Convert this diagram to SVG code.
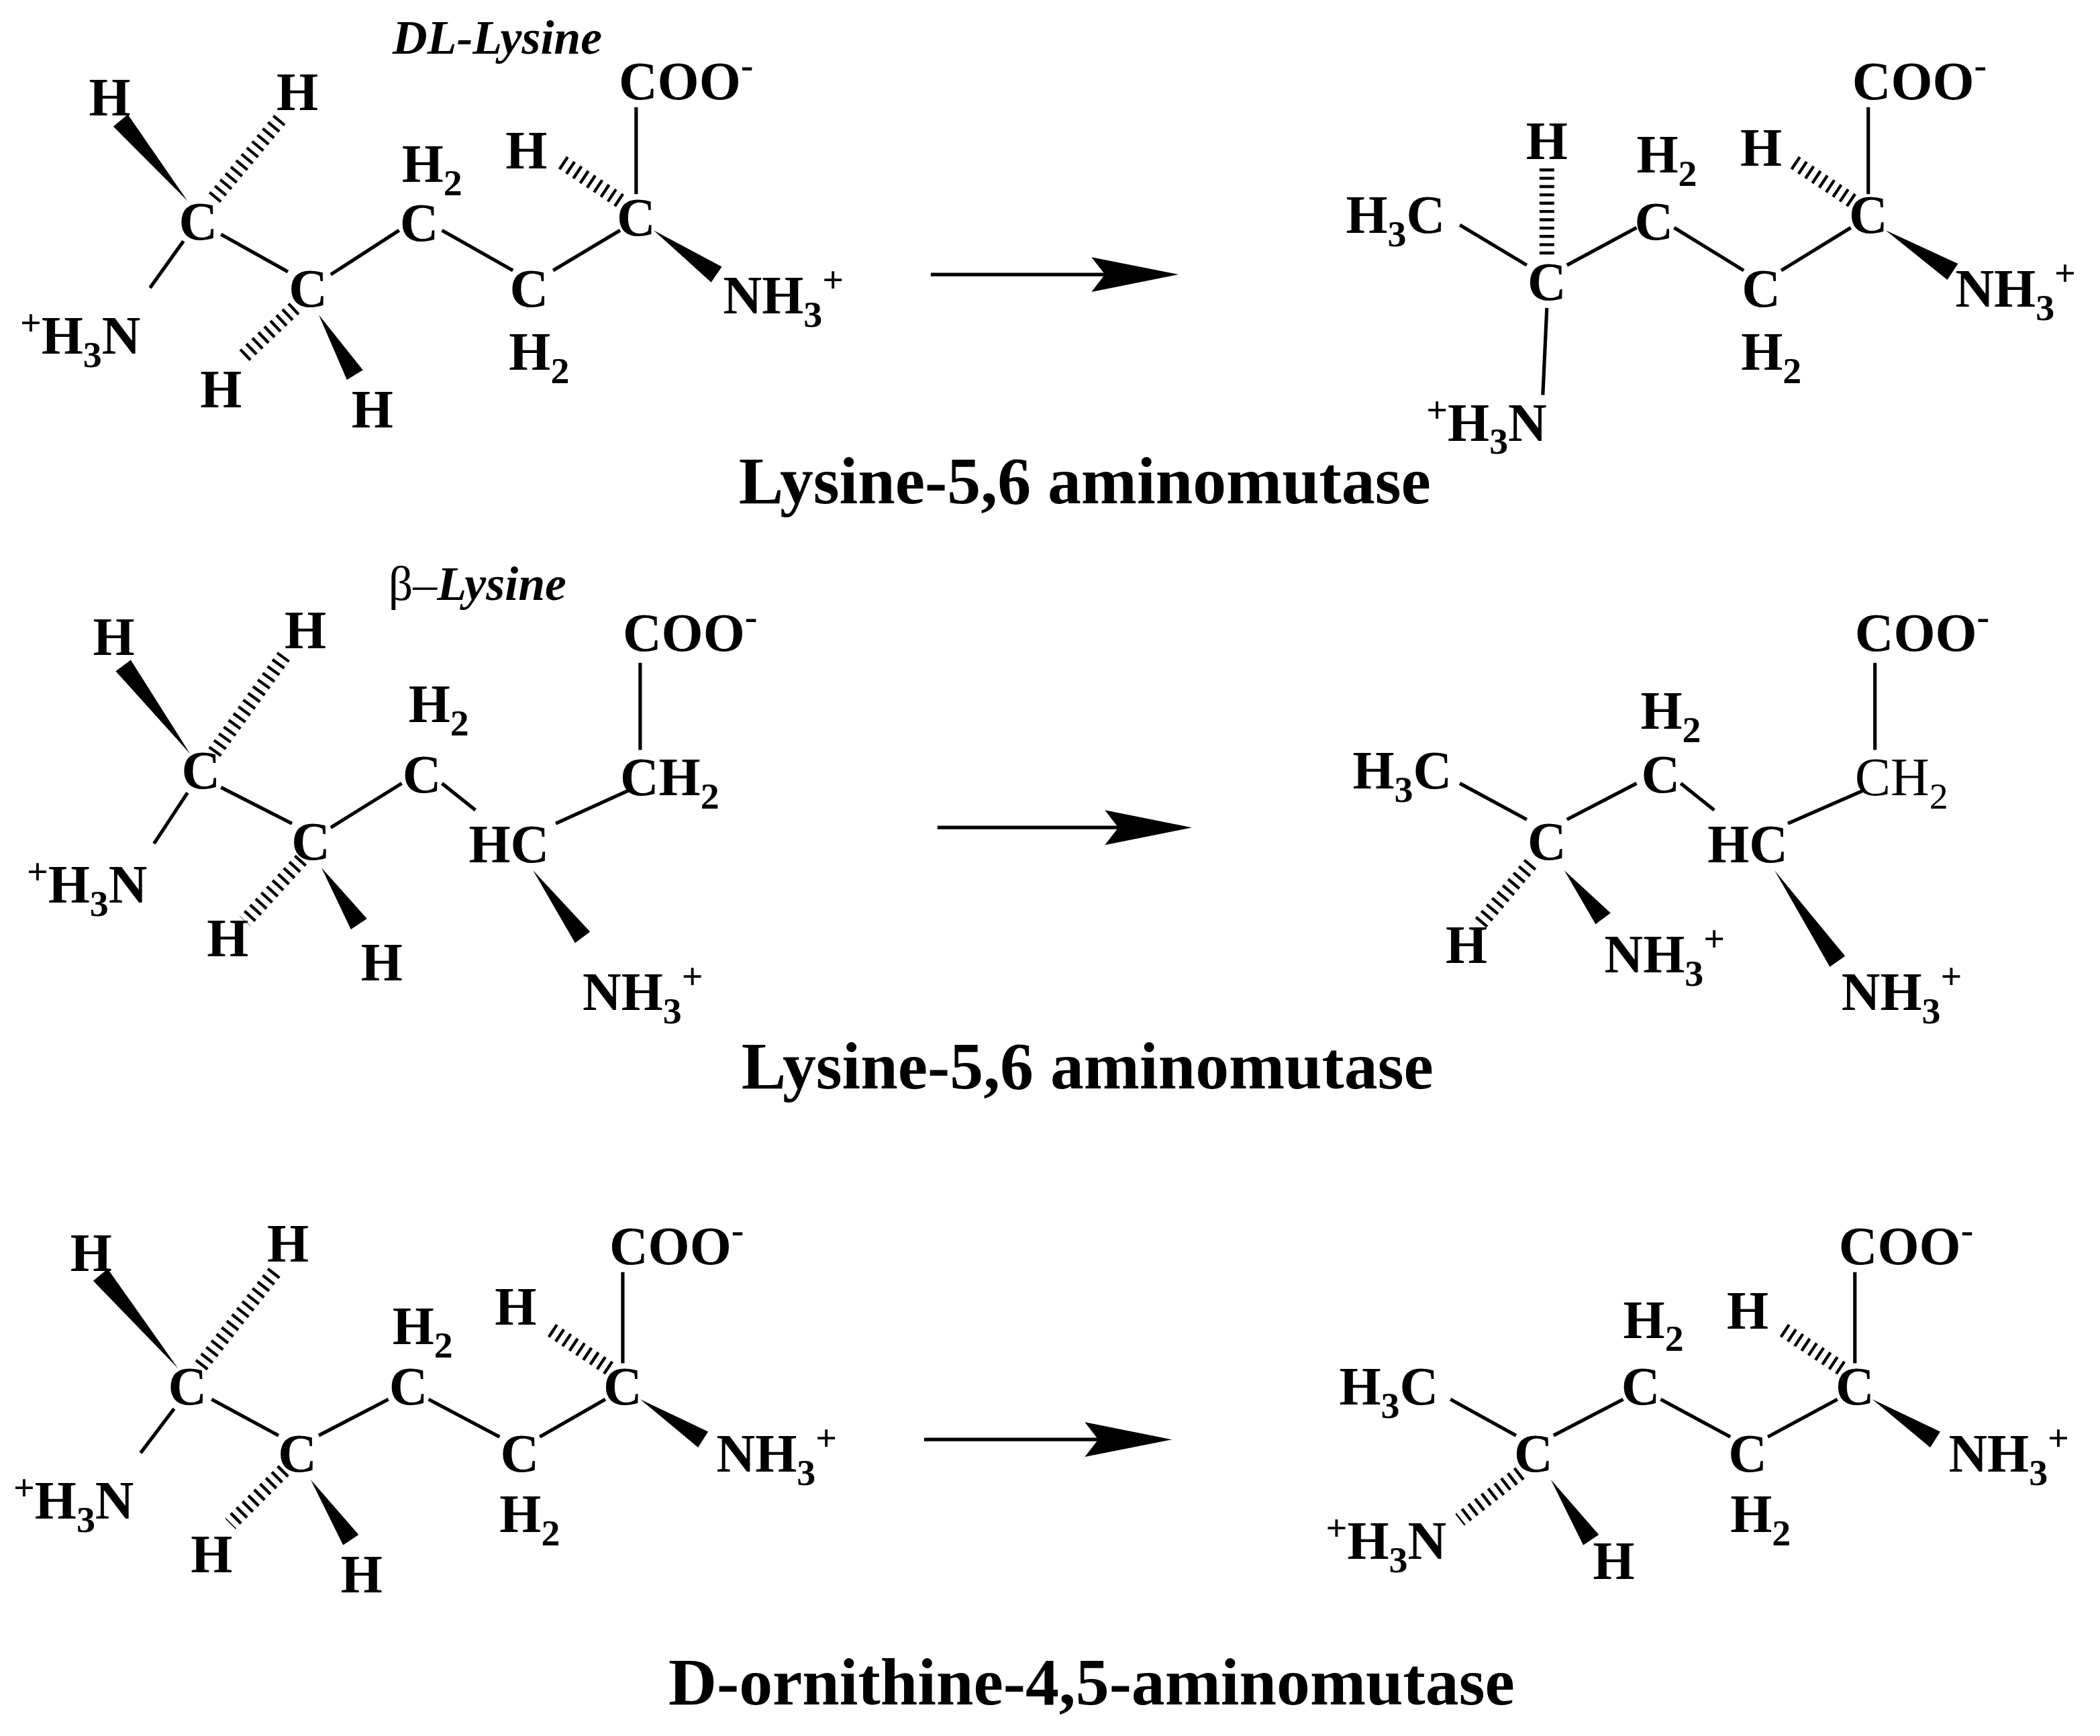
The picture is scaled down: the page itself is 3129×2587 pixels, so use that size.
<svg xmlns="http://www.w3.org/2000/svg" width="3129" height="2587" viewBox="0 0 3129 2587">
<style>
text{font-family:"Liberation Serif","Times New Roman",serif;font-weight:bold;font-size:40px;fill:#000}
.m{text-anchor:middle}
.it{font-style:italic;font-size:36px}
.lb{font-size:50px;text-anchor:middle}
.s{font-size:28px}
.n{font-weight:normal}
line{stroke:#000;stroke-width:2.6}
.h{stroke-width:11;stroke-dasharray:2.2 4}
polygon{fill:#000}
</style>
<rect width="3129" height="2587" fill="#fff"/>
<g transform="scale(1.9955)">
<g id="connectors">
<line x1="112" y1="215" x2="137" y2="180"/><line x1="165" y1="175" x2="215" y2="203"/><line x1="247" y1="205" x2="298" y2="172"/><line x1="330" y1="172" x2="383" y2="202"/><line x1="413" y1="202" x2="463" y2="172"/><line x1="475" y1="145" x2="475" y2="80"/>
<polygon points="140,150 95.4,85.5 84.6,94.5"/><polygon points="238,235 259,283.6 271,276.4"/><polygon points="488,172 531,210.8 539,199.2"/>
<line class="h" x1="160" y1="148" x2="210" y2="88"/><line class="h" x1="220" y1="230" x2="180" y2="268"/><line class="h" x1="463" y1="150" x2="418" y2="120"/>
<line x1="1090" y1="168" x2="1140" y2="198"/><line x1="1155" y1="230" x2="1152" y2="295"/><line x1="1170" y1="198" x2="1222" y2="170"/><line x1="1250" y1="170" x2="1302" y2="202"/><line x1="1330" y1="202" x2="1382" y2="170"/><line x1="1395" y1="145" x2="1395" y2="80"/>
<line class="h" x1="1155" y1="190" x2="1155" y2="125"/><polygon points="1408,172 1454,209 1462,197"/><line class="h" x1="1383" y1="150" x2="1338" y2="120"/>
<line x1="695" y1="205" x2="830" y2="205"/><polygon points="880,205 815,192 825,205 815,218"/>
<line x1="115" y1="630" x2="140" y2="592"/><line x1="165" y1="588" x2="218" y2="615"/><line x1="247" y1="618" x2="300" y2="585"/><line x1="330" y1="585" x2="355" y2="605"/><line x1="415" y1="615" x2="470" y2="590"/><line x1="478" y1="560" x2="478" y2="495"/>
<polygon points="142,563 97.6,492.8 86.4,501.2"/><polygon points="240,648 262,694 274,686"/><polygon points="398,650 429.4,704.2 440.6,695.8"/>
<line class="h" x1="160" y1="562" x2="212" y2="490"/><line class="h" x1="225" y1="642" x2="183" y2="688"/>
<line x1="1090" y1="585" x2="1140" y2="612"/><line x1="1170" y1="612" x2="1222" y2="585"/><line x1="1255" y1="585" x2="1280" y2="605"/><line x1="1335" y1="615" x2="1392" y2="590"/><line x1="1400" y1="560" x2="1400" y2="495"/>
<line class="h" x1="1143" y1="645" x2="1105" y2="690"/><polygon points="1168,650 1191.4,690.2 1202.6,681.8"/><polygon points="1325,650 1366.3,722 1377.7,714"/>
<line x1="700" y1="618" x2="840" y2="618"/><polygon points="890,618 825,605 835,618 825,631"/>
<line x1="105" y1="1085" x2="130" y2="1052"/><line x1="158" y1="1045" x2="208" y2="1072"/><line x1="238" y1="1072" x2="290" y2="1045"/><line x1="320" y1="1045" x2="373" y2="1073"/><line x1="403" y1="1073" x2="452" y2="1045"/><line x1="465" y1="1018" x2="465" y2="950"/>
<polygon points="133,1022 80.4,947.5 69.6,956.5"/><polygon points="232,1105 256.2,1153.9 267.8,1146.1"/><polygon points="478,1045 521.25,1080.9 528.75,1069.1"/>
<line class="h" x1="150" y1="1020" x2="205" y2="950"/><line class="h" x1="212" y1="1098" x2="172" y2="1138"/><line class="h" x1="455" y1="1022" x2="410" y2="992"/>
<line x1="1083" y1="1045" x2="1132" y2="1072"/><line x1="1160" y1="1072" x2="1212" y2="1045"/><line x1="1240" y1="1045" x2="1292" y2="1073"/><line x1="1320" y1="1073" x2="1372" y2="1045"/><line x1="1385" y1="1018" x2="1385" y2="950"/>
<line class="h" x1="1135" y1="1100" x2="1090" y2="1135"/><polygon points="1158,1105 1182.2,1153.9 1193.8,1146.1"/><polygon points="1398,1045 1441.25,1080.9 1448.75,1069.1"/><line class="h" x1="1375" y1="1022" x2="1330" y2="992"/>
<line x1="690" y1="1075" x2="825" y2="1075"/><polygon points="875,1075 810,1062 820,1075 810,1088"/>
</g>
<g id="row1">
<text class="it" x="293" y="40">DL-Lysine</text>
<text class="m" x="82" y="86">H</text><text class="m" x="222" y="82">H</text><text class="m" x="148" y="179">C</text>
<text x="15" y="264"><tspan class="s" dy="-14">+</tspan><tspan dy="14">H</tspan><tspan class="s" dy="10">3</tspan><tspan dy="-10">N</tspan></text>
<text class="m" x="230" y="229">C</text><text class="m" x="165" y="304">H</text><text class="m" x="278" y="319">H</text>
<text x="300" y="136">H<tspan class="s" dy="10">2</tspan></text><text class="m" x="313" y="180">C</text>
<text class="m" x="395" y="229">C</text><text x="380" y="276">H<tspan class="s" dy="10">2</tspan></text>
<text class="m" x="393" y="126">H</text><text class="m" x="475" y="176">C</text>
<text x="462" y="74">COO<tspan class="s" dy="-16">-</tspan></text>
<text x="540" y="234">NH<tspan class="s" dy="10">3</tspan><tspan class="s" dy="-26">+</tspan></text>
</g>
<g id="product1">
<text x="1005" y="174">H<tspan class="s" dy="10">3</tspan><tspan dy="-10">C</tspan></text>
<text class="m" x="1155" y="224">C</text><text class="m" x="1155" y="119">H</text>
<text x="1065" y="329"><tspan class="s" dy="-14">+</tspan><tspan dy="14">H</tspan><tspan class="s" dy="10">3</tspan><tspan dy="-10">N</tspan></text>
<text x="1222" y="129">H<tspan class="s" dy="10">2</tspan></text><text class="m" x="1235" y="179">C</text>
<text class="m" x="1315" y="229">C</text><text x="1300" y="276">H<tspan class="s" dy="10">2</tspan></text>
<text class="m" x="1315" y="124">H</text><text class="m" x="1395" y="174">C</text>
<text x="1383" y="74">COO<tspan class="s" dy="-16">-</tspan></text>
<text x="1460" y="229">NH<tspan class="s" dy="10">3</tspan><tspan class="s" dy="-26">+</tspan></text>
<text class="lb" x="810" y="376">Lysine-5,6 aminomutase</text>
</g>
<g id="row2">
<text class="it" x="290" y="448"><tspan font-style="normal" font-weight="normal">β–</tspan>Lysine</text>
<text class="m" x="85" y="489">H</text><text class="m" x="228" y="484">H</text><text class="m" x="150" y="589">C</text>
<text x="20" y="674"><tspan class="s" dy="-14">+</tspan><tspan dy="14">H</tspan><tspan class="s" dy="10">3</tspan><tspan dy="-10">N</tspan></text>
<text class="m" x="232" y="642">C</text><text class="m" x="170" y="714">H</text><text class="m" x="285" y="732">H</text>
<text x="305" y="539">H<tspan class="s" dy="10">2</tspan></text><text class="m" x="315" y="592">C</text>
<text class="m" x="380" y="644">HC</text><text x="463" y="594">CH<tspan class="s" dy="10">2</tspan></text>
<text x="465" y="486">COO<tspan class="s" dy="-16">-</tspan></text>
<text x="435" y="754">NH<tspan class="s" dy="10">3</tspan><tspan class="s" dy="-26">+</tspan></text>
</g>
<g id="product2">
<text x="1010" y="589">H<tspan class="s" dy="10">3</tspan><tspan dy="-10">C</tspan></text>
<text class="m" x="1155" y="642">C</text><text class="m" x="1095" y="719">H</text>
<text x="1198" y="726">NH<tspan class="s" dy="10">3</tspan><tspan class="s" dy="-26">+</tspan></text>
<text x="1225" y="544">H<tspan class="s" dy="10">2</tspan></text><text class="m" x="1240" y="592">C</text>
<text class="m" x="1305" y="644">HC</text><text class="n" x="1385" y="594">CH<tspan class="s" dy="10">2</tspan></text>
<text x="1385" y="486">COO<tspan class="s" dy="-16">-</tspan></text>
<text x="1375" y="754">NH<tspan class="s" dy="10">3</tspan><tspan class="s" dy="-26">+</tspan></text>
<text class="lb" x="812" y="813">Lysine-5,6 aminomutase</text>
</g>
<g id="row3">
<text class="m" x="68" y="949">H</text><text class="m" x="215" y="942">H</text><text class="m" x="140" y="1049">C</text>
<text x="10" y="1134"><tspan class="s" dy="-14">+</tspan><tspan dy="14">H</tspan><tspan class="s" dy="10">3</tspan><tspan dy="-10">N</tspan></text>
<text class="m" x="222" y="1099">C</text><text class="m" x="158" y="1174">H</text><text class="m" x="270" y="1189">H</text>
<text x="293" y="1004">H<tspan class="s" dy="10">2</tspan></text><text class="m" x="305" y="1049">C</text>
<text class="m" x="388" y="1099">C</text><text x="373" y="1144">H<tspan class="s" dy="10">2</tspan></text>
<text class="m" x="385" y="989">H</text><text class="m" x="465" y="1049">C</text>
<text x="455" y="944">COO<tspan class="s" dy="-16">-</tspan></text>
<text x="535" y="1099">NH<tspan class="s" dy="10">3</tspan><tspan class="s" dy="-26">+</tspan></text>
</g>
<g id="product3">
<text x="1000" y="1049">H<tspan class="s" dy="10">3</tspan><tspan dy="-10">C</tspan></text>
<text class="m" x="1145" y="1099">C</text>
<text x="990" y="1164"><tspan class="s" dy="-14">+</tspan><tspan dy="14">H</tspan><tspan class="s" dy="10">3</tspan><tspan dy="-10">N</tspan></text>
<text class="m" x="1205" y="1179">H</text>
<text x="1212" y="999">H<tspan class="s" dy="10">2</tspan></text><text class="m" x="1225" y="1049">C</text>
<text class="m" x="1305" y="1099">C</text><text x="1292" y="1144">H<tspan class="s" dy="10">2</tspan></text>
<text class="m" x="1305" y="992">H</text><text class="m" x="1385" y="1049">C</text>
<text x="1373" y="944">COO<tspan class="s" dy="-16">-</tspan></text>
<text x="1455" y="1099">NH<tspan class="s" dy="10">3</tspan><tspan class="s" dy="-26">+</tspan></text>
<text class="lb" x="815" y="1273">D-ornithine-4,5-aminomutase</text>
</g>
</g>
</svg>
